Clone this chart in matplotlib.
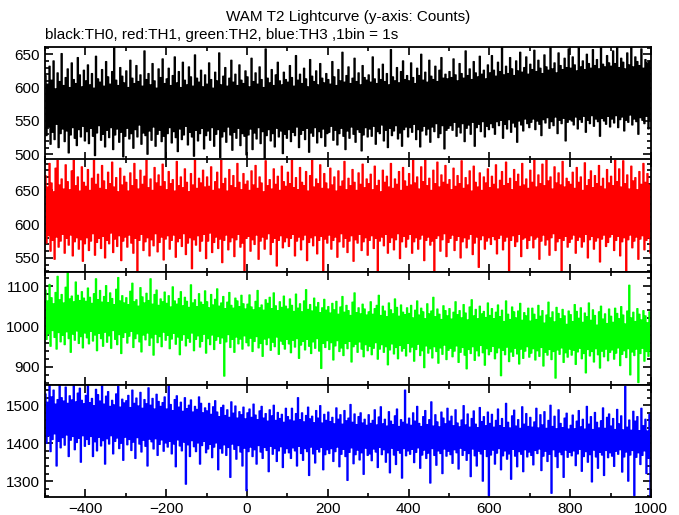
import numpy as np
import matplotlib
matplotlib.use("Agg")
import matplotlib.pyplot as plt
from matplotlib.ticker import MultipleLocator

title = "WAM T2 Lightcurve (y-axis: Counts)"
subtitle = "black:TH0, red:TH1, green:TH2, blue:TH3 ,1bin = 1s"

# Envelope: per 5-s chunk (starting at -500 s), the
# highest and lowest 1-s counts drawn in that chunk.
chunk_start, chunk_width, n_chunks = -500, 5, 300

th0_hi = [618, 605, 632, 611, 640, 598, 622, 609, 651, 603, 615, 628, 600, 637, 612, 606, 645, 619, 601, 626,
          610, 634, 604, 621, 599, 647, 613, 608, 627, 602, 639, 616, 605, 624, 660, 611, 603, 630, 617, 607,
          625, 600, 641, 614, 606, 633, 609, 619, 602, 655, 612, 621, 604, 636, 610, 599, 628, 615, 643, 606,
          613, 629, 603, 618, 646, 607, 624, 600, 638, 611, 604, 631, 616, 602, 649, 614, 608, 626, 601, 619,
          605, 637, 612, 599, 623, 610, 652, 604, 617, 630, 602, 614, 641, 608, 620, 603, 634, 611, 606, 625,
          616, 601, 644, 609, 622, 605, 631, 612, 600, 658, 614, 607, 627, 603, 619, 638, 610, 604, 623, 612,
          608, 633, 615, 602, 648, 611, 620, 606, 629, 613, 601, 642, 617, 609, 625, 604, 636, 614, 607, 621,
          612, 605, 639, 616, 603, 627, 610, 653, 608, 618, 631, 606, 614, 644, 609, 622, 604, 633, 615, 611,
          619, 608, 646, 613, 606, 628, 612, 635, 609, 621, 604, 657, 616, 610, 630, 607, 624, 640, 612, 618,
          610, 637, 615, 606, 629, 618, 650, 611, 623, 608, 641, 617, 612, 632, 609, 626, 645, 614, 620, 613,
          624, 615, 643, 619, 610, 636, 621, 614, 655, 618, 628, 612, 639, 622, 616, 647, 620, 626, 613, 634,
          622, 648, 626, 617, 638, 624, 661, 619, 632, 621, 645, 628, 618, 640, 625, 653, 623, 630, 646, 620,
          635, 627, 656, 624, 641, 629, 621, 649, 631, 626, 661, 628, 637, 622, 652, 633, 627, 644, 630, 658,
          629, 646, 634, 625, 661, 631, 640, 627, 650, 636, 629, 657, 633, 642, 628, 661, 635, 631, 648, 637,
          632, 655, 636, 661, 630, 644, 638, 628, 652, 634, 661, 631, 646, 639, 633, 658, 629, 642, 637, 640]
th0_lo = [528, 541, 515, 533, 522, 545, 510, 531, 538, 519, 535, 502, 529, 540, 524, 513, 537, 526, 542, 520,
          534, 516, 539, 527, 498, 532, 543, 521, 530, 511, 536, 525, 540, 507, 529, 538, 518, 533, 496, 527,
          539, 523, 531, 509, 537, 526, 544, 515, 532, 528, 500, 535, 521, 541, 512, 530, 536, 519, 527, 493,
          531, 540, 517, 534, 525, 504, 538, 522, 529, 542, 514, 533, 526, 497, 536, 520, 531, 539, 508, 528,
          535, 521, 540, 512, 530, 537, 495, 526, 534, 518, 541, 529, 506, 533, 524, 539, 513, 531, 527, 499,
          529, 538, 507, 532, 523, 540, 516, 534, 492, 528, 537, 520, 531, 511, 539, 526, 535, 501, 530, 524,
          537, 519, 533, 528, 541, 510, 530, 536, 522, 539, 503, 532, 527, 540, 517, 534, 525, 538, 512, 531,
          533, 542, 521, 536, 514, 531, 539, 527, 507, 535, 524, 541, 530, 518, 537, 533, 505, 529, 540, 526,
          538, 527, 542, 515, 534, 531, 544, 520, 536, 510, 539, 528, 535, 543, 523, 532, 512, 537, 541, 526,
          540, 533, 545, 522, 537, 511, 535, 542, 529, 538, 518, 541, 534, 546, 525, 531, 543, 508, 536, 539,
          543, 536, 548, 527, 541, 532, 546, 519, 539, 544, 530, 548, 512, 540, 545, 534, 549, 526, 542, 537,
          546, 540, 530, 549, 543, 551, 524, 545, 538, 552, 533, 547, 541, 518, 550, 544, 535, 553, 546, 540,
          548, 553, 537, 550, 545, 528, 552, 547, 555, 539, 549, 543, 556, 531, 551, 546, 554, 520, 548, 552,
          550, 544, 556, 538, 552, 548, 557, 533, 551, 546, 558, 542, 553, 549, 527, 554, 550, 545, 557, 541,
          553, 547, 558, 540, 552, 556, 535, 551, 548, 559, 544, 553, 549, 530, 555, 551, 546, 557, 538, 552]

th1_hi = [672, 655, 690, 661, 648, 683, 696, 658, 667, 652, 688, 663, 651, 679, 696, 657, 670, 649, 685, 662,
          656, 681, 650, 668, 696, 659, 674, 653, 687, 664, 651, 677, 660, 692, 655, 669, 648, 683, 658, 671,
          662, 649, 676, 657, 690, 666, 652, 680, 659, 671, 696, 654, 667, 650, 684, 661, 673, 656, 689, 663,
          651, 678, 660, 666, 649, 693, 657, 670, 654, 682, 662, 648, 675, 658, 696, 653, 668, 661, 680, 655,
          670, 656, 685, 650, 663, 677, 652, 696, 660, 668, 649, 681, 657, 672, 654, 690, 662, 651, 675, 659,
          664, 650, 679, 658, 687, 653, 670, 661, 648, 694, 657, 666, 652, 682, 659, 671, 650, 686, 663, 656,
          677, 660, 696, 654, 669, 651, 684, 662, 657, 678, 649, 672, 696, 655, 667, 660, 688, 653, 675, 661,
          652, 683, 658, 670, 649, 679, 656, 664, 693, 651, 668, 657, 681, 662, 650, 676, 659, 689, 654, 667,
          660, 674, 651, 686, 657, 665, 648, 680, 662, 671, 655, 690, 653, 667, 659, 678, 650, 684, 664, 656,
          675, 658, 696, 661, 670, 652, 685, 663, 696, 657, 668, 650, 680, 660, 692, 655, 673, 662, 687, 659,
          666, 651, 683, 656, 672, 660, 694, 653, 669, 658, 679, 649, 686, 662, 655, 676, 650, 670, 661, 682,
          654, 671, 659, 688, 652, 665, 678, 657, 692, 660, 668, 651, 681, 663, 674, 656, 690, 658, 667, 653,
          680, 662, 696, 655, 673, 660, 689, 657, 696, 664, 670, 652, 685, 661, 676, 658, 693, 655, 668, 663,
          659, 677, 653, 684, 662, 670, 650, 691, 657, 666, 679, 654, 672, 660, 687, 656, 668, 652, 681, 661,
          671, 657, 696, 663, 682, 655, 694, 660, 673, 652, 686, 664, 669, 651, 678, 659, 690, 662, 675, 658]
th1_lo = [572, 583, 560, 576, 548, 581, 566, 575, 585, 557, 579, 569, 584, 553, 574, 580, 563, 577, 545, 571,
          580, 561, 575, 586, 554, 573, 579, 564, 582, 550, 576, 571, 587, 558, 578, 567, 583, 546, 575, 581,
          566, 584, 572, 557, 579, 530, 576, 585, 561, 574, 580, 553, 577, 568, 586, 559, 573, 581, 547, 578,
          583, 563, 576, 584, 551, 574, 579, 567, 586, 555, 572, 580, 534, 577, 569, 583, 560, 575, 585, 549,
          575, 587, 558, 573, 581, 564, 578, 543, 576, 584, 562, 574, 580, 552, 577, 585, 566, 572, 531, 579,
          582, 560, 577, 570, 584, 548, 575, 581, 563, 578, 586, 555, 573, 579, 538, 576, 583, 565, 574, 580,
          567, 579, 585, 553, 575, 581, 562, 577, 584, 546, 573, 580, 568, 583, 556, 576, 582, 530, 578, 572,
          584, 563, 576, 581, 551, 574, 586, 566, 579, 558, 575, 583, 545, 577, 572, 585, 561, 574, 580, 554,
          576, 583, 564, 579, 530, 575, 581, 568, 585, 557, 573, 580, 562, 577, 586, 549, 574, 582, 566, 578,
          585, 557, 574, 580, 563, 578, 584, 546, 576, 581, 569, 575, 530, 579, 583, 560, 577, 586, 552, 573,
          579, 584, 561, 576, 582, 550, 574, 580, 565, 578, 585, 555, 572, 581, 536, 577, 583, 563, 575, 580,
          570, 582, 577, 556, 579, 584, 562, 575, 581, 531, 576, 583, 567, 574, 585, 552, 578, 580, 564, 576,
          583, 565, 578, 581, 548, 575, 584, 569, 577, 554, 580, 586, 561, 574, 579, 530, 576, 582, 566, 573,
          578, 584, 557, 576, 581, 566, 574, 585, 550, 577, 582, 563, 575, 580, 544, 578, 584, 567, 573, 581,
          585, 561, 576, 582, 553, 574, 580, 530, 577, 584, 565, 575, 581, 548, 578, 583, 562, 576, 580, 557]

th2_hi = [1090, 1063, 1104, 1071, 1056, 1084, 1124, 1066, 1079, 1058, 1097, 1135, 1068, 1075, 1061, 1110, 1077, 1064, 1086, 1070,
          1062, 1095, 1072, 1057, 1081, 1118, 1066, 1089, 1060, 1074, 1101, 1059, 1083, 1069, 1054, 1092, 1121, 1063, 1076, 1058,
          1071, 1054, 1087, 1107, 1061, 1066, 1050, 1096, 1073, 1058, 1082, 1064, 1118, 1055, 1079, 1090, 1052, 1068, 1061, 1085,
          1057, 1076, 1048, 1098, 1063, 1055, 1069, 1086, 1051, 1072, 1062, 1047, 1103, 1058, 1066, 1049, 1081, 1060, 1054, 1088,
          1061, 1046, 1079, 1053, 1067, 1093, 1050, 1058, 1074, 1044, 1060, 1084, 1052, 1045, 1070, 1063, 1049, 1077, 1056, 1043,
          1055, 1078, 1048, 1041, 1062, 1089, 1046, 1053, 1040, 1066, 1057, 1072, 1044, 1083, 1051, 1039, 1061, 1047, 1075, 1050,
          1043, 1068, 1052, 1037, 1080, 1045, 1056, 1036, 1063, 1091, 1042, 1054, 1038, 1070, 1048, 1059, 1034, 1046, 1067, 1040,
          1049, 1033, 1057, 1041, 1062, 1030, 1048, 1074, 1035, 1052, 1039, 1027, 1060, 1083, 1034, 1046, 1031, 1055, 1043, 1028,
          1036, 1061, 1030, 1044, 1052, 1077, 1027, 1050, 1038, 1024, 1058, 1041, 1031, 1068, 1047, 1025, 1053, 1035, 1029, 1046,
          1032, 1052, 1021, 1040, 1063, 1028, 1045, 1036, 1019, 1056, 1031, 1038, 1072, 1024, 1043, 1030, 1017, 1051, 1039, 1026,
          1044, 1018, 1035, 1061, 1029, 1039, 1021, 1054, 1033, 1016, 1048, 1066, 1026, 1042, 1019, 1050, 1031, 1037, 1022, 1058,
          1027, 1044, 1019, 1035, 1053, 1024, 1040, 1012, 1063, 1030, 1017, 1048, 1036, 1021, 1038, 1057, 1015, 1034, 1026, 1045,
          1013, 1045, 1030, 1017, 1052, 1025, 1039, 1008, 1028, 1060, 1021, 1036, 1011, 1047, 1032, 1019, 1042, 1026, 1005, 1038,
          1029, 1012, 1054, 1037, 1020, 1046, 1010, 1033, 1024, 1058, 1015, 1041, 1027, 1003, 1036, 1050, 1018, 1031, 1007, 1043,
          1025, 1010, 1045, 1032, 1019, 1049, 1028, 1006, 1038, 1102, 1021, 1035, 1012, 1044, 1030, 1016, 1039, 1026, 1009, 1036]
th2_lo = [968, 982, 951, 990, 973, 944, 985, 962, 978, 955, 987, 970, 936, 981, 966, 989, 958, 975, 947, 984,
          972, 957, 988, 964, 979, 940, 983, 970, 951, 986, 961, 977, 946, 990, 968, 955, 980, 933, 973, 985,
          959, 976, 988, 948, 970, 982, 962, 937, 979, 967, 984, 953, 972, 929, 981, 960, 975, 950, 986, 966,
          978, 945, 969, 983, 956, 974, 930, 966, 980, 952, 971, 961, 984, 940, 968, 977, 949, 963, 981, 934,
          970, 955, 979, 943, 966, 975, 958, 972, 877, 962, 980, 948, 968, 936, 974, 957, 969, 944, 977, 960,
          952, 971, 938, 963, 975, 947, 958, 926, 969, 955, 972, 941, 961, 950, 974, 931, 964, 956, 944, 968,
          957, 935, 966, 949, 970, 921, 954, 963, 942, 968, 951, 933, 962, 946, 970, 939, 896, 958, 948, 965,
          943, 960, 917, 952, 965, 938, 947, 928, 958, 945, 963, 912, 950, 956, 936, 962, 944, 925, 955, 940,
          951, 930, 946, 960, 919, 944, 955, 936, 950, 905, 942, 957, 932, 948, 920, 953, 939, 946, 927, 958,
          937, 949, 914, 943, 956, 928, 940, 898, 952, 934, 945, 922, 950, 938, 909, 947, 931, 954, 918, 941,
          946, 925, 939, 952, 911, 936, 948, 929, 895, 943, 933, 950, 916, 940, 927, 953, 935, 904, 945, 930,
          938, 951, 920, 935, 947, 878, 941, 930, 949, 913, 937, 926, 946, 932, 907, 944, 921, 939, 950, 924,
          934, 945, 917, 940, 926, 948, 902, 936, 929, 943, 918, 938, 872, 942, 931, 947, 911, 935, 924, 944,
          929, 941, 906, 937, 946, 920, 933, 885, 943, 927, 938, 912, 945, 930, 897, 939, 925, 944, 915, 936,
          942, 919, 934, 947, 903, 931, 940, 923, 945, 880, 937, 928, 944, 861, 933, 946, 914, 938, 926, 941]

th3_hi = [1530, 1508, 1555, 1522, 1540, 1503, 1515, 1555, 1520, 1511, 1548, 1505, 1525, 1514, 1555, 1509, 1532, 1545, 1513, 1504,
          1526, 1555, 1507, 1518, 1499, 1542, 1528, 1511, 1555, 1503, 1524, 1536, 1497, 1513, 1501, 1530, 1550, 1495, 1516, 1506,
          1512, 1526, 1494, 1540, 1505, 1519, 1498, 1534, 1492, 1515, 1504, 1546, 1500, 1518, 1490, 1529, 1510, 1497, 1507, 1522,
          1490, 1555, 1502, 1486, 1515, 1525, 1495, 1508, 1484, 1520, 1491, 1500, 1514, 1482, 1497, 1489, 1522, 1505, 1480, 1493,
          1485, 1505, 1476, 1496, 1512, 1482, 1470, 1494, 1500, 1473, 1488, 1468, 1509, 1479, 1498, 1466, 1483, 1475, 1495, 1464,
          1480, 1490, 1468, 1503, 1474, 1462, 1485, 1497, 1466, 1478, 1458, 1488, 1472, 1500, 1460, 1481, 1465, 1476, 1455, 1492,
          1470, 1461, 1492, 1458, 1478, 1520, 1462, 1480, 1456, 1473, 1495, 1464, 1471, 1454, 1486, 1466, 1499, 1453, 1476, 1460,
          1482, 1457, 1468, 1451, 1493, 1463, 1475, 1450, 1486, 1459, 1466, 1502, 1455, 1477, 1449, 1470, 1480, 1453, 1463, 1447,
          1475, 1452, 1460, 1488, 1448, 1469, 1496, 1451, 1463, 1445, 1483, 1458, 1449, 1472, 1490, 1444, 1462, 1455, 1540, 1450,
          1466, 1447, 1480, 1458, 1497, 1452, 1444, 1470, 1486, 1449, 1462, 1509, 1445, 1475, 1456, 1443, 1482, 1466, 1451, 1492,
          1458, 1471, 1446, 1488, 1453, 1443, 1461, 1499, 1448, 1477, 1442, 1465, 1485, 1450, 1441, 1494, 1457, 1470, 1446, 1482,
          1452, 1476, 1442, 1460, 1490, 1446, 1465, 1441, 1505, 1455, 1440, 1472, 1487, 1445, 1462, 1439, 1496, 1450, 1478, 1444,
          1468, 1442, 1456, 1492, 1440, 1475, 1448, 1483, 1439, 1460, 1500, 1444, 1471, 1438, 1488, 1452, 1441, 1466, 1479, 1437,
          1447, 1474, 1438, 1458, 1486, 1443, 1463, 1437, 1497, 1450, 1470, 1436, 1481, 1455, 1440, 1459, 1493, 1439, 1468, 1477,
          1445, 1465, 1436, 1489, 1451, 1472, 1435, 1550, 1442, 1461, 1434, 1484, 1458, 1470, 1433, 1492, 1446, 1463, 1432, 1476]
th3_lo = [1400, 1420, 1378, 1410, 1425, 1340, 1405, 1388, 1415, 1395, 1422, 1365, 1408, 1418, 1383, 1402, 1413, 1350, 1420, 1392,
          1410, 1397, 1418, 1365, 1404, 1380, 1416, 1393, 1407, 1345, 1412, 1398, 1420, 1372, 1405, 1414, 1386, 1400, 1355, 1416,
          1396, 1410, 1381, 1403, 1360, 1415, 1398, 1377, 1408, 1392, 1340, 1411, 1404, 1385, 1412, 1368, 1397, 1409, 1379, 1401,
          1390, 1405, 1372, 1398, 1338, 1409, 1393, 1380, 1403, 1292, 1396, 1365, 1407, 1391, 1378, 1401, 1345, 1394, 1405, 1375,
          1385, 1397, 1362, 1390, 1401, 1330, 1386, 1374, 1396, 1368, 1389, 1310, 1398, 1384, 1358, 1394, 1377, 1340, 1387, 1275,
          1378, 1390, 1365, 1383, 1345, 1394, 1377, 1360, 1389, 1381, 1325, 1392, 1371, 1386, 1352, 1380, 1391, 1336, 1374, 1386,
          1375, 1360, 1388, 1380, 1340, 1392, 1373, 1355, 1386, 1378, 1315, 1390, 1372, 1348, 1384, 1377, 1389, 1330, 1370, 1383,
          1373, 1386, 1352, 1378, 1390, 1338, 1371, 1384, 1365, 1302, 1376, 1388, 1346, 1370, 1382, 1356, 1375, 1318, 1387, 1368,
          1372, 1354, 1385, 1377, 1336, 1389, 1370, 1383, 1350, 1375, 1322, 1387, 1369, 1344, 1381, 1374, 1308, 1386, 1367, 1380,
          1371, 1384, 1349, 1376, 1388, 1334, 1369, 1382, 1360, 1374, 1295, 1386, 1368, 1342, 1380, 1373, 1320, 1385, 1366, 1379,
          1370, 1347, 1383, 1375, 1332, 1387, 1368, 1381, 1355, 1373, 1312, 1385, 1367, 1340, 1379, 1372, 1300, 1384, 1365, 1262,
          1369, 1382, 1345, 1374, 1386, 1330, 1367, 1380, 1358, 1372, 1305, 1384, 1366, 1338, 1378, 1371, 1325, 1383, 1364, 1377,
          1368, 1343, 1381, 1373, 1385, 1328, 1366, 1379, 1352, 1371, 1268, 1383, 1365, 1336, 1377, 1370, 1310, 1382, 1363, 1376,
          1367, 1380, 1341, 1372, 1384, 1326, 1365, 1378, 1350, 1370, 1298, 1382, 1364, 1334, 1376, 1369, 1315, 1381, 1362, 1375,
          1366, 1339, 1379, 1371, 1383, 1324, 1364, 1377, 1300, 1369, 1381, 1262, 1363, 1375, 1344, 1368, 1380, 1320, 1361, 1262]

series = [(th0_hi, th0_lo), (th1_hi, th1_lo), (th2_hi, th2_lo), (th3_hi, th3_lo)]
colors = ["#000000", "#ff0000", "#00ff00", "#0000ff"]
ylims = [(492, 661), (529, 696), (856, 1135), (1258, 1555)]
major_y = [50, 50, 100, 100]
minor_y = [10, 10, 20, 20]
xticks = [-400, -200, 0, 200, 400, 600, 800, 1000]

plt.rcParams['font.family'] = ['Liberation Sans', 'DejaVu Sans']

fig = plt.figure(figsize=(6.79, 5.15), dpi=100)
left, right = 45 / 679, 651 / 679
top_px, bot_px = 47, 497
h_px = (bot_px - top_px) / 4

starts = chunk_start + chunk_width * np.arange(n_chunks)
t_hi = starts + chunk_width * 0.25
t_lo = starts + chunk_width * 0.75

for i, ((hi, lo), col) in enumerate(zip(series, colors)):
    y0 = 1 - (top_px + (i + 1) * h_px) / 515
    ax = fig.add_axes([left, y0, right - left, h_px / 515])
    t_all = np.column_stack([t_hi, t_lo]).ravel()
    v_all = np.column_stack([np.asarray(hi, float), np.asarray(lo, float)]).ravel()
    ax.plot(t_all, v_all, color=col, lw=1.0, drawstyle='steps-mid')
    ax.set_xlim(-500, 1000)
    ax.set_ylim(*ylims[i])
    ax.xaxis.set_major_locator(MultipleLocator(200))
    ax.xaxis.set_minor_locator(MultipleLocator(100))
    ax.yaxis.set_major_locator(MultipleLocator(major_y[i]))
    ax.yaxis.set_minor_locator(MultipleLocator(minor_y[i]))
    ax.tick_params(which='both', direction='in', top=True, right=True, labelsize=11, width=1.2, color='black')
    ax.tick_params(which='major', length=6)
    ax.tick_params(which='minor', length=3)
    for s in ax.spines.values():
        s.set_linewidth(1.3)
        s.set_zorder(5)
    if i < 3:
        ax.set_xticklabels([])
    else:
        ax.set_xticks(xticks)

fig.text(348 / 679, 1 - 17 / 515, title, ha='center', va='center', fontsize=11)
fig.text(45 / 679, 1 - 35 / 515, subtitle, ha='left', va='center', fontsize=11)

fig.savefig("out.png", dpi=100)
